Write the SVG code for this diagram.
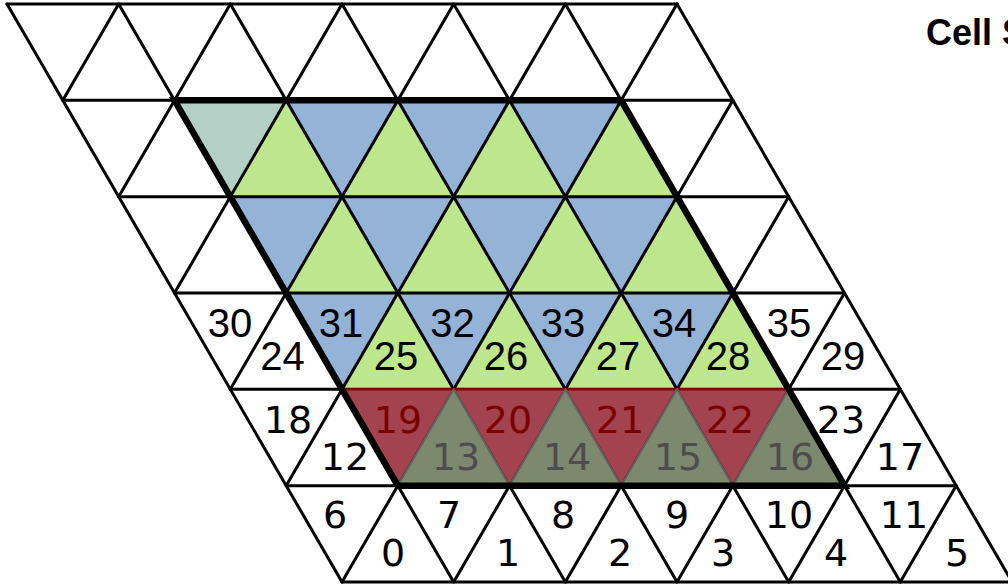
<svg xmlns="http://www.w3.org/2000/svg" width="1008" height="586" viewBox="0 0 1008 586">
<style>
.ln{stroke:#000;stroke-width:3;fill:none;stroke-linecap:round}
.thick{stroke:#000;stroke-width:6.5;fill:none;stroke-linejoin:miter}
.blue{fill:#95b3d7}
.green{fill:#bee68c}
.teal{fill:#b4cfc5}
.red{fill:#a3434f;stroke:#7a0a0a;stroke-width:2.5;stroke-linejoin:round}
.grey{fill:#7d896f;stroke:#5f6660;stroke-width:2;stroke-linejoin:round}
.a{font-family:"Liberation Sans",Arial,sans-serif;font-size:40px;text-anchor:middle;fill:#000}
.d{font-family:"DejaVu Sans",sans-serif;font-size:38px;text-anchor:middle;fill:#000}
.rt{fill:#7a0000}
.gt{fill:#4d4d4d}
.title{font-family:"Liberation Sans",Arial,sans-serif;font-size:36px;font-weight:bold;fill:#000}
</style>
<defs>
<path id="up" d="M0,0 L-55.833,96.333 L55.833,96.333 Z"/>
<path id="down" d="M0,0 L111.667,0 L55.833,96.333 Z"/>
</defs>
<rect width="1008" height="586" fill="#fff"/>
<g id="fills">
<polygon class="blue" points="174.5,100.33 621.17,100.33 788.67,389.33 342,389.33"/>
<use href="#down" class="teal" x="174.5" y="100.33"/>
<use href="#up" class="green" x="286.17" y="100.33"/>
<use href="#up" class="green" x="397.83" y="100.33"/>
<use href="#up" class="green" x="509.5" y="100.33"/>
<use href="#up" class="green" x="621.17" y="100.33"/>
<use href="#up" class="green" x="342" y="196.67"/>
<use href="#up" class="green" x="453.67" y="196.67"/>
<use href="#up" class="green" x="565.33" y="196.67"/>
<use href="#up" class="green" x="677" y="196.67"/>
<use href="#up" class="green" x="397.83" y="293"/>
<use href="#up" class="green" x="509.5" y="293"/>
<use href="#up" class="green" x="621.17" y="293"/>
<use href="#up" class="green" x="732.83" y="293"/>
</g>
<g id="lattice" class="ln">
<path d="M7,4H677 M62.83,100.33H732.83 M118.67,196.67H788.67 M174.5,293H844.5 M230.33,389.33H900.33 M286.17,485.67H956.17 M342,582H1012"/>
<path d="M7,4L342,582 M118.67,4L453.67,582 M230.33,4L565.33,582 M342,4L677,582 M453.67,4L788.67,582 M565.33,4L900.33,582 M677,4L1012,582"/>
<path d="M118.67,4L62.83,100.33 M230.33,4L118.67,196.67 M342,4L174.5,293 M453.67,4L230.33,389.33 M565.33,4L286.17,485.67 M677,4L342,582 M732.83,100.33L453.67,582 M788.67,196.67L565.33,582 M844.5,293L677,582 M900.33,389.33L788.67,582 M956.17,485.67L900.33,582"/>
</g>
<g id="overlay">
<use href="#down" class="red" x="342" y="389.33"/>
<use href="#down" class="red" x="453.67" y="389.33"/>
<use href="#down" class="red" x="565.33" y="389.33"/>
<use href="#down" class="red" x="677" y="389.33"/>
<use href="#up" class="grey" x="453.67" y="389.33"/>
<use href="#up" class="grey" x="565.33" y="389.33"/>
<use href="#up" class="grey" x="677" y="389.33"/>
<use href="#up" class="grey" x="788.67" y="389.33"/>
</g>
<g id="outline">
<polygon class="thick" points="174.5,100.33 621.17,100.33 844.5,485.67 397.83,485.67"/>
</g>
<g id="labels">
<text class="a" x="230" y="337">30</text>
<text class="a" x="341" y="337">31</text>
<text class="a" x="452.5" y="337">32</text>
<text class="a" x="563" y="337">33</text>
<text class="a" x="674" y="337">34</text>
<text class="a" x="789" y="337">35</text>
<text class="a" x="282.5" y="370">24</text>
<text class="a" x="396" y="370">25</text>
<text class="a" x="506" y="370">26</text>
<text class="a" x="618" y="370">27</text>
<text class="a" x="728" y="370">28</text>
<text class="a" x="843" y="370">29</text>
<text class="d" x="288" y="433">18</text>
<text class="d rt" x="398" y="433">19</text>
<text class="d rt" x="508" y="433">20</text>
<text class="d rt" x="620" y="433">21</text>
<text class="d rt" x="730" y="433">22</text>
<text class="d" x="841" y="433">23</text>
<text class="d" x="345" y="470">12</text>
<text class="d gt" x="456" y="470">13</text>
<text class="d gt" x="567" y="470">14</text>
<text class="d gt" x="678" y="470">15</text>
<text class="d gt" x="790" y="470">16</text>
<text class="d" x="900" y="470">17</text>
<text class="d" x="335" y="528">6</text>
<text class="d" x="449" y="528">7</text>
<text class="d" x="563" y="528">8</text>
<text class="d" x="677" y="528">9</text>
<text class="d" x="789" y="528">10</text>
<text class="d" x="904" y="528">11</text>
<text class="d" x="393" y="566">0</text>
<text class="d" x="508" y="566">1</text>
<text class="d" x="620" y="566">2</text>
<text class="d" x="723" y="566">3</text>
<text class="d" x="836" y="566">4</text>
<text class="d" x="957" y="566">5</text>
</g>
<text class="title" x="926" y="44.5">Cell S</text>
</svg>
